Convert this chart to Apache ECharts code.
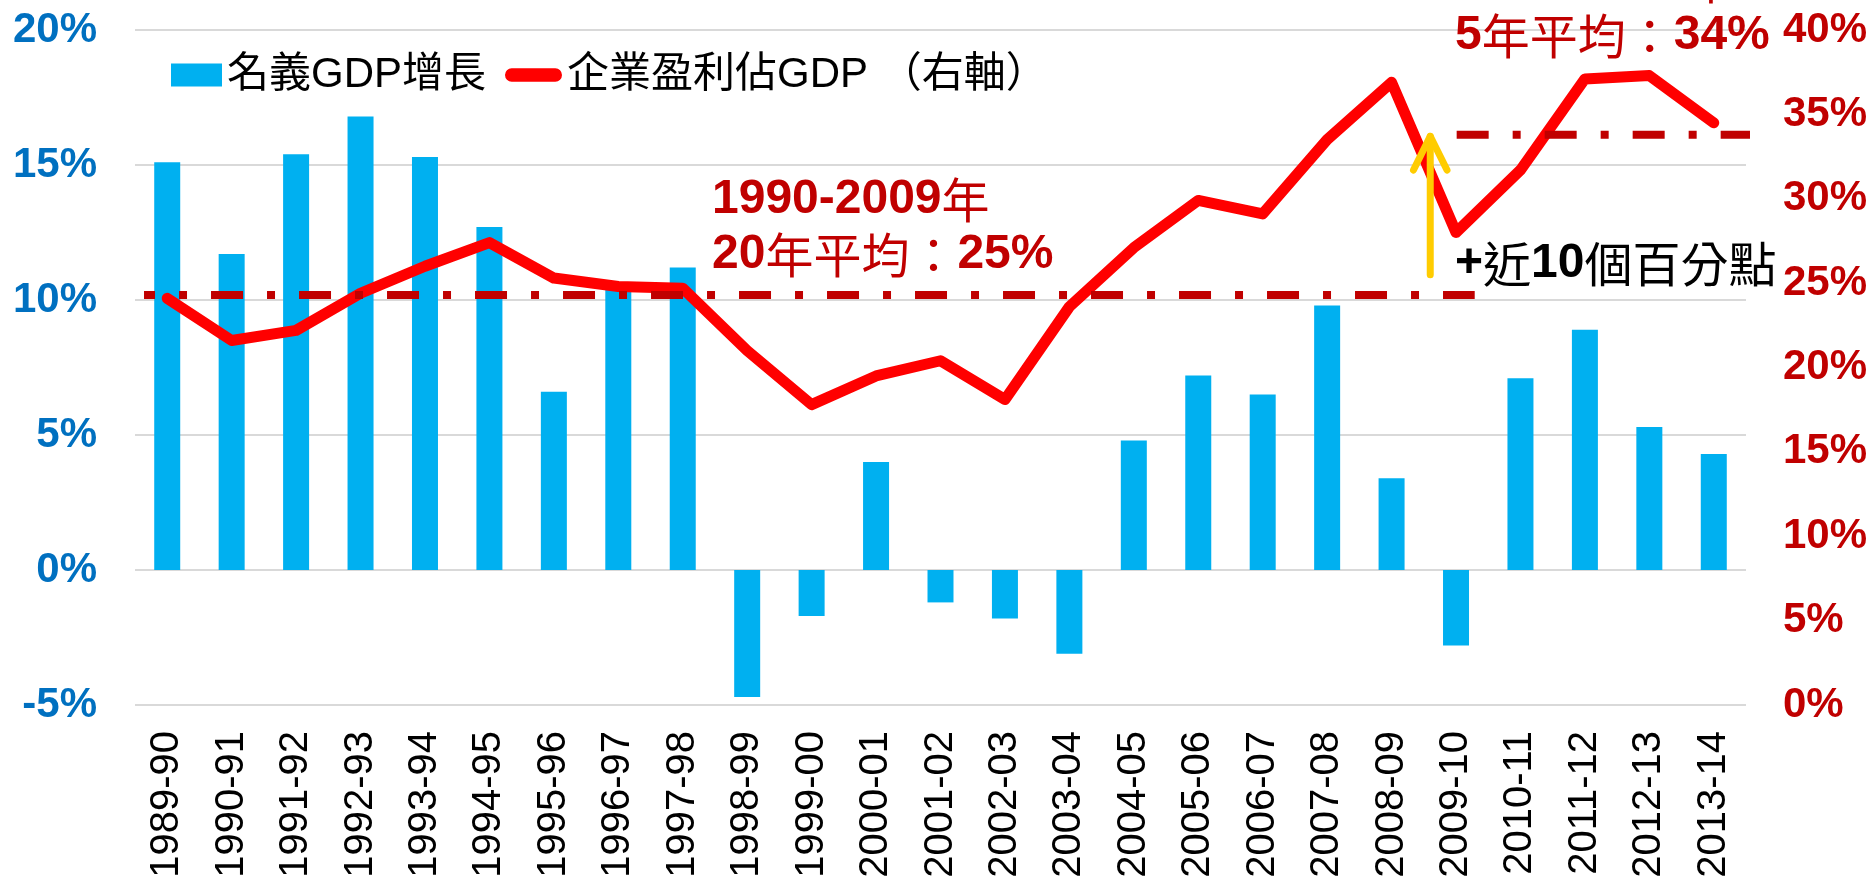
<!DOCTYPE html>
<html>
<head>
<meta charset="utf-8">
<script src="https://cdn.jsdelivr.net/npm/echarts@6/dist/echarts.min.js"></script>
<style>
html,body{margin:0;padding:0;background:#fff;}
#chart{width:1873px;height:886px;}
</style>
</head>
<body>
<div id="chart"></div>
<script>
const categories = ['1989-90','1990-91','1991-92','1992-93','1993-94','1994-95','1995-96','1996-97','1997-98','1998-99','1999-00','2000-01','2001-02','2002-03','2003-04','2004-05','2005-06','2006-07','2007-08','2008-09','2009-10','2010-11','2011-12','2012-13','2013-14'];
const gdpGrowth = [15.1, 11.7, 15.4, 16.8, 15.3, 12.7, 6.6, 10.4, 11.2, -4.7, -1.7, 4.0, -1.2, -1.8, -3.1, 4.8, 7.2, 6.5, 9.8, 3.4, -2.8, 7.1, 8.9, 5.3, 4.3];
const profitShare = [24.1, 21.6, 22.2, 24.4, 26.0, 27.4, 25.3, 24.8, 24.7, 21.0, 17.8, 19.5, 20.4, 18.1, 23.6, 27.1, 29.9, 29.1, 33.5, 36.9, 28.0, 31.7, 37.1, 37.3, 34.5];
const leftTicks = { min: -5, max: 20, step: 5 };
const rightTicks = { min: 0, max: 40, step: 5 };
// average reference lines (right axis value, span in category units)
const avg20 = [[0.14, 24.3], [20.79, 24.3]];
const avg5 = [[20.51, 33.8], [25.1, 33.8]];
// arrow showing the rise (category units, right-axis values)
const arrowShaft = [[20.1, 25.5], [20.1, 33.7]];
const arrowHead = [[19.84, 31.7], [20.1, 33.7], [20.36, 31.7]];
const barName = '名義GDP增長';
const lineName = '企業盈利佔GDP （右軸）';

const LAT = "'Liberation Sans', Arial, sans-serif";
const CJK = "'Noto Sans CJK TC', sans-serif";
const RED = '#C00000';

const chart = echarts.init(document.getElementById('chart'), null, {renderer: 'canvas'});

function rich(color) {
  return {
    b: { fontFamily: LAT, fontWeight: 'bold', fontSize: 48, color: color },
    n: { fontFamily: CJK, fontWeight: 'normal', fontSize: 48, color: color }
  };
}

chart.setOption({
  animation: false,
  backgroundColor: '#fff',
  grid: { left: 135, right: 127, top: 30, bottom: 181, containLabel: false },
  legend: [
    {
      data: [{ name: barName, icon: 'rect' }],
      left: 171, top: 54, padding: 0,
      itemWidth: 51, itemHeight: 23,
      selectedMode: false,
      textStyle: { fontSize: 42, color: '#000', fontFamily: LAT + ", " + CJK }
    },
    {
      data: [{ name: lineName, icon: 'path://M7,0L53,0A7,7,0,0,1,53,14L7,14A7,7,0,0,1,7,0Z' }],
      left: 505, top: 54, padding: 0,
      itemWidth: 57, itemHeight: 14,
      selectedMode: false,
      textStyle: { fontSize: 42, color: '#000', fontFamily: LAT + ", " + CJK }
    }
  ],
  xAxis: [
    {
      type: 'category',
      data: categories,
      boundaryGap: true,
      position: 'bottom',
      axisLine: { show: false, onZero: false },
      axisTick: { show: false },
      axisLabel: {
        rotate: 90, interval: 0, margin: 26,
        fontSize: 40, color: '#000', fontFamily: LAT
      }
    },
    {
      type: 'value', min: 0, max: 25, show: false
    }
  ],
  yAxis: [
    {
      type: 'value', min: leftTicks.min, max: leftTicks.max, interval: leftTicks.step,
      position: 'left',
      axisLine: { show: false }, axisTick: { show: false },
      axisLabel: {
        formatter: '{value}%', margin: 38,
        fontSize: 42, fontWeight: 'bold', color: '#0070C0', fontFamily: LAT
      },
      splitLine: { show: true, lineStyle: { color: '#D9D9D9', width: 2 } }
    },
    {
      type: 'value', min: rightTicks.min, max: rightTicks.max, interval: rightTicks.step,
      position: 'right',
      axisLine: { show: false }, axisTick: { show: false },
      axisLabel: {
        formatter: '{value}%', margin: 37,
        fontSize: 42, fontWeight: 'bold', color: RED, fontFamily: LAT
      },
      splitLine: { show: false }
    }
  ],
  series: [
    {
      name: barName, type: 'bar', data: gdpGrowth,
      xAxisIndex: 0, yAxisIndex: 0,
      barWidth: 26, itemStyle: { color: '#00B0F0' }, z: 2
    },
    {
      name: lineName, type: 'line', data: profitShare,
      xAxisIndex: 0, yAxisIndex: 1,
      symbol: 'none', showSymbol: false,
      itemStyle: { color: '#FF0000' },
      lineStyle: { color: '#FF0000', width: 11, cap: 'round', join: 'round' },
      z: 3
    },
    {
      name: 'avg20', type: 'line', data: avg20,
      xAxisIndex: 1, yAxisIndex: 1, symbol: 'none', clip: false, silent: true,
      lineStyle: { color: RED, width: 8, type: [32, 24, 8, 24], dashOffset: 21, cap: 'butt' },
      z: 4
    },
    {
      name: 'avg5', type: 'line', data: avg5,
      xAxisIndex: 1, yAxisIndex: 1, symbol: 'none', clip: false, silent: true,
      lineStyle: { color: RED, width: 8, type: [32, 24, 8, 24], dashOffset: 0, cap: 'butt' },
      z: 4
    },
    {
      name: 'arrowShaft', type: 'line', data: arrowShaft,
      xAxisIndex: 1, yAxisIndex: 1, symbol: 'none', clip: false, silent: true,
      lineStyle: { color: '#FFCC00', width: 7, cap: 'round', join: 'round' },
      z: 5
    },
    {
      name: 'arrowHead', type: 'line', data: arrowHead,
      xAxisIndex: 1, yAxisIndex: 1, symbol: 'none', clip: false, silent: true,
      lineStyle: { color: '#FFCC00', width: 7, cap: 'round', join: 'round' },
      z: 5
    }
  ],
  graphic: [
    { type: 'text', left: 712, top: 176, z: 10,
      style: { text: '{b|1990-2009}{n|年}', rich: rich(RED), fill: RED } },
    { type: 'text', left: 712, top: 231, z: 10,
      style: { text: '{b|20}{n|年平均：}{b|25%}', rich: rich(RED), fill: RED } },
    { type: 'text', left: 1455, top: -43, z: 10,
      style: { text: '{b|2010-2014}{n|年}', rich: rich(RED), fill: RED } },
    { type: 'text', left: 1455, top: 12, z: 10,
      style: { text: '{b|5}{n|年平均：}{b|34%}', rich: rich(RED), fill: RED } },
    { type: 'text', left: 1455, top: 240, z: 10,
      style: { text: '{b|+}{n|近}{b|10}{n|個百分點}', rich: rich('#000'), fill: '#000' } }
  ]
});
</script>
</body>
</html>
